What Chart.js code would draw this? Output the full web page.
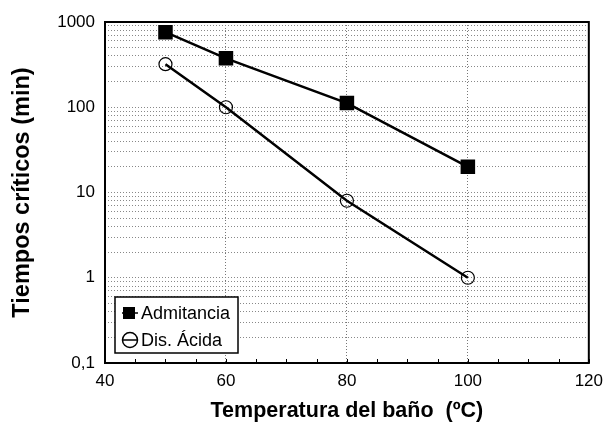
<!DOCTYPE html>
<html>
<head>
<meta charset="utf-8">
<script src="https://cdn.jsdelivr.net/npm/chart.js@4/dist/chart.umd.min.js"></script>
<style>
  html, body { margin: 0; padding: 0; background: #fff; }
  #wrap { width: 611px; height: 426px; }
</style>
</head>
<body>
<div id="wrap"><canvas id="chart"></canvas></div>
<script>
// data
const temps = [50, 60, 80, 100];
const admitancia = [760, 375, 112, 20];
const disAcida = [320, 100, 8, 1];
const seriesNames = ['Admitancia', 'Dis. Ácida'];

const xTicks = [40, 60, 80, 100, 120];
const xMinorStep = 5;
const yDecades = [0.1, 1, 10, 100, 1000];
const yTickLabels = ['0,1', '1', '10', '100', '1000'];

const FONT = "'Liberation Sans', Arial, sans-serif";

// every 1..9 x decade, for the dotted log grid
const yGrid = [];
yDecades.forEach((d, i) => {
    if (i === yDecades.length - 1) { yGrid.push(d); return; }
    for (let m = 1; m < 10; m++) yGrid.push(+(d * m).toPrecision(3));
});

const frame = {
    id: 'frame',
    afterDraw(chart) {
        const {ctx, chartArea: a, scales: {x}} = chart;
        ctx.save();
        // minor tick marks pointing inward on the bottom axis
        ctx.strokeStyle = '#000';
        ctx.lineWidth = 1;
        for (let v = xTicks[0]; v <= xTicks.at(-1); v += xMinorStep) {
            const px = Math.round(x.getPixelForValue(v)) + 0.5;
            ctx.beginPath();
            ctx.moveTo(px, a.bottom);
            ctx.lineTo(px, a.bottom - 4);
            ctx.stroke();
        }
        ctx.lineWidth = 2;
        ctx.strokeRect(a.left, a.top, a.right - a.left, a.bottom - a.top);

        // legend box, inside the plot at bottom left
        const bx = a.left + 10, by = a.bottom - 66, bw = 123, bh = 56;
        ctx.fillStyle = '#fff';
        ctx.fillRect(bx, by, bw, bh);
        ctx.lineWidth = 1.5;
        ctx.strokeRect(bx, by, bw, bh);
        ctx.font = '18px ' + FONT;
        ctx.textBaseline = 'middle';
        chart.data.datasets.forEach((ds, i) => {
            const cy = by + 16 + i * 27;
            const cx = bx + 14;
            ctx.strokeStyle = '#000';
            ctx.lineWidth = 1.5;
            ctx.beginPath();
            ctx.moveTo(cx - 7, cy);
            ctx.lineTo(cx + 9, cy);
            ctx.stroke();
            ctx.fillStyle = '#000';
            if (ds.pointStyle === 'rect') {
                ctx.fillRect(cx - 6, cy - 6, 12, 12);
            } else {
                ctx.beginPath();
                ctx.arc(cx + 1, cy, 7.5, 0, Math.PI * 2);
                ctx.stroke();
            }
            ctx.fillText(ds.label, cx + 12, cy + 1);
        });
        ctx.restore();
    }
};

new Chart(document.getElementById('chart'), {
    type: 'line',
    data: {
        datasets: [
            {
                label: seriesNames[0],
                data: temps.map((t, i) => ({x: t, y: admitancia[i]})),
                borderColor: '#000',
                backgroundColor: '#000',
                borderWidth: 2.5,
                pointStyle: 'rect',
                pointRadius: 8.5,
                pointHoverRadius: 8.5,
            },
            {
                label: seriesNames[1],
                data: temps.map((t, i) => ({x: t, y: disAcida[i]})),
                borderColor: '#000',
                backgroundColor: 'rgba(0,0,0,0)',
                borderWidth: 2.5,
                pointStyle: 'circle',
                pointRadius: 6.5,
                pointHoverRadius: 6.5,
                pointBorderWidth: 1.2,
            }
        ]
    },
    options: {
        responsive: true,
        maintainAspectRatio: false,
        animation: false,
        layout: { padding: { top: 22, right: 18, left: 0, bottom: 0 } },
        plugins: { legend: { display: false }, tooltip: { enabled: false } },
        scales: {
            x: {
                type: 'linear',
                min: xTicks[0],
                max: xTicks.at(-1),
                afterBuildTicks: s => { s.ticks = xTicks.map(v => ({value: v})); },
                afterFit: s => { s.height = 63; },
                ticks: { color: '#000', font: { family: FONT, size: 17 }, padding: 8, maxRotation: 0 },
                grid: { color: '#777', lineWidth: 1, drawTicks: false },
                border: { display: false, dash: [1, 2] },
                title: {
                    display: true,
                    text: 'Temperatura del baño  (ºC)',
                    color: '#000',
                    font: { family: FONT, size: 21.5, weight: 'bold' },
                    padding: { top: 0, bottom: 2 }
                }
            },
            y: {
                type: 'logarithmic',
                min: yDecades[0],
                max: yDecades.at(-1),
                afterBuildTicks: s => { s.ticks = yGrid.map(v => ({value: v})); },
                afterFit: s => { s.width = 105; },
                ticks: {
                    color: '#000',
                    font: { family: FONT, size: 17 },
                    padding: 10,
                    autoSkip: false,
                    callback: v => {
                        const i = yDecades.findIndex(d => Math.abs(d - v) < d * 1e-6);
                        return i >= 0 ? yTickLabels[i] : '';
                    }
                },
                grid: { color: '#888', lineWidth: 1, drawTicks: false },
                border: { display: false, dash: [1, 2] },
                title: {
                    display: true,
                    text: 'Tiempos críticos (min)',
                    color: '#000',
                    font: { family: FONT, size: 23.5, weight: 'bold' },
                    padding: { top: 8, bottom: 0 }
                }
            }
        }
    },
    plugins: [frame]
});
</script>
</body>
</html>
